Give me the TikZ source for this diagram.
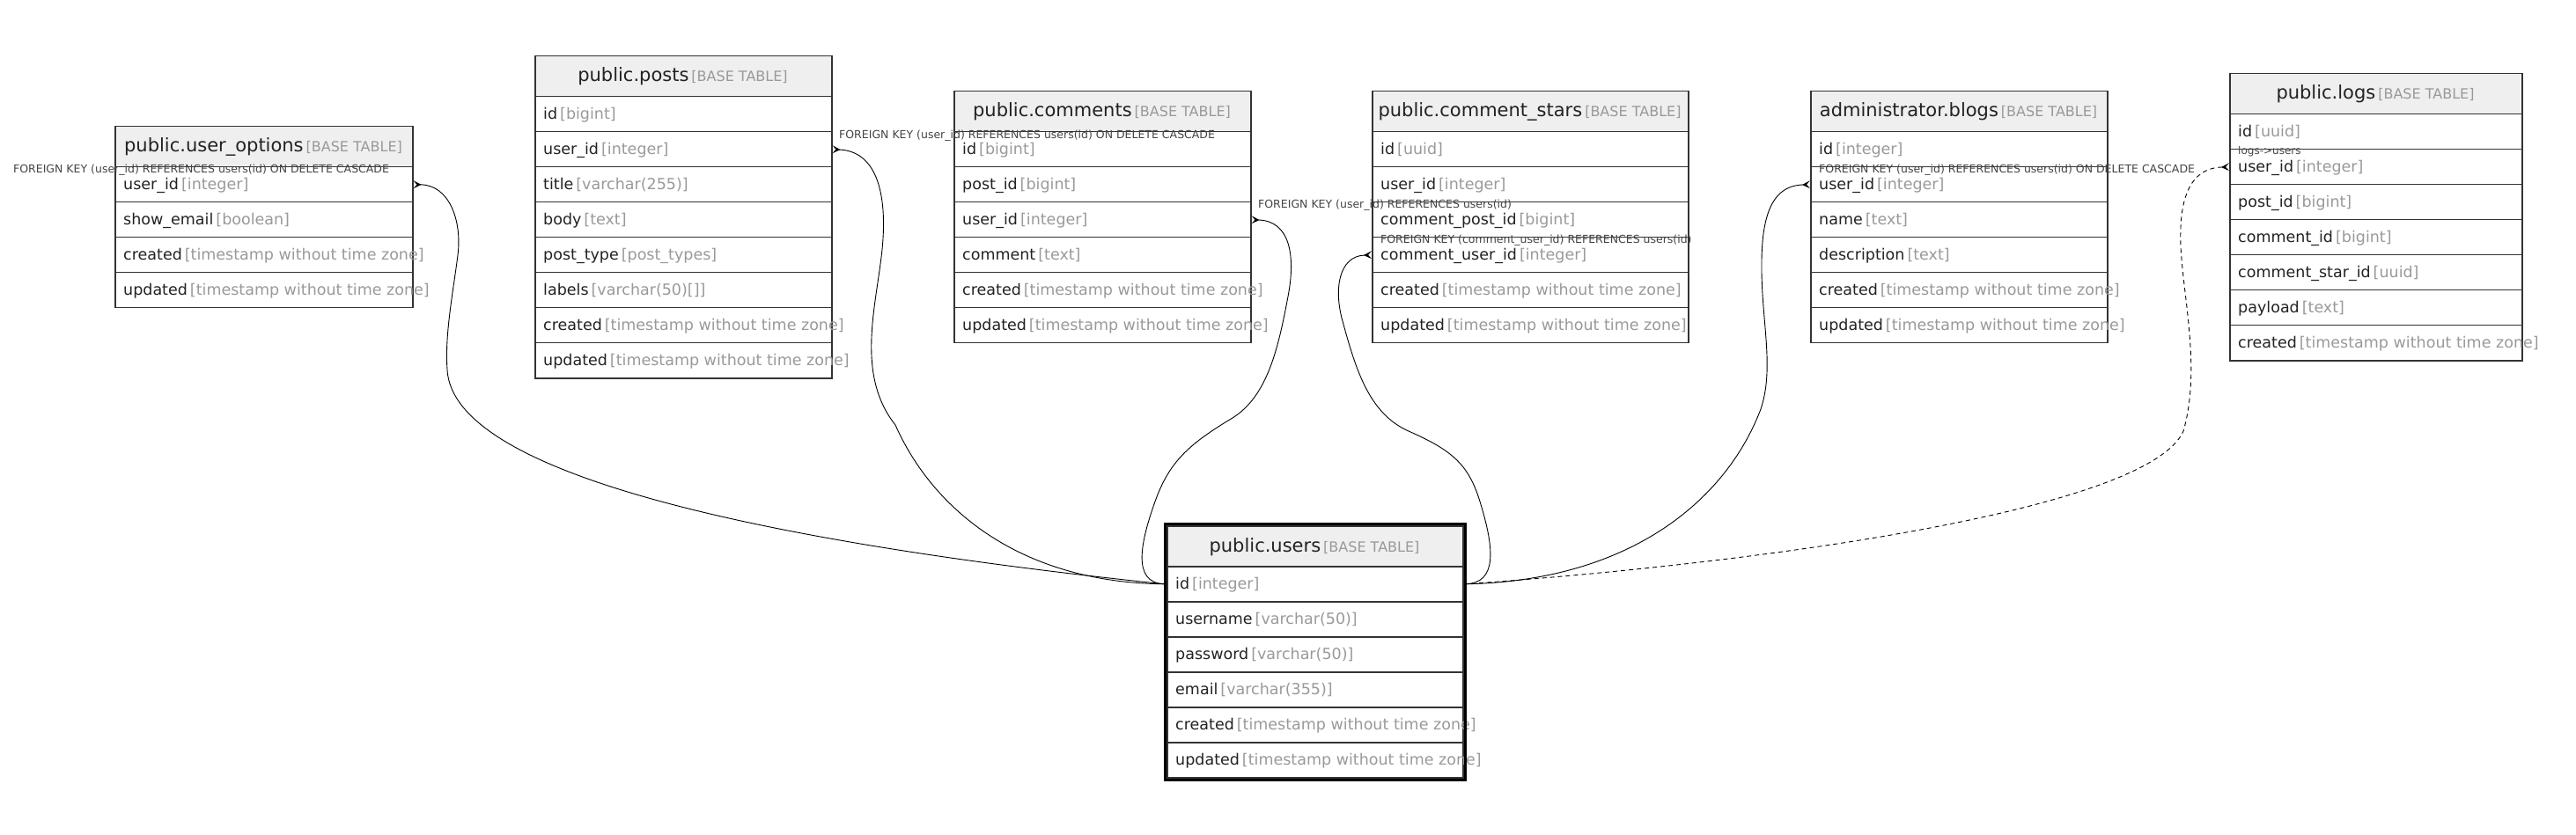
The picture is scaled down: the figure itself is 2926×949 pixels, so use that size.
\documentclass[tikz,border=0pt]{standalone}
\usepackage{fontspec}
\setmainfont{DejaVu Sans}
\usetikzlibrary{arrows.meta}
\definecolor{headfill}{HTML}{EFEFEF}
\definecolor{tblline}{HTML}{333333}
\definecolor{typegray}{HTML}{999999}
\definecolor{namegray}{HTML}{222222}
\definecolor{fkgray}{HTML}{444444}
\tikzset{
  headbox/.style={draw=tblline, fill=headfill, line width=1.5pt, minimum height=46pt, inner sep=0pt},
  rowbox/.style={draw=tblline, line width=1.5pt, minimum height=40pt, inner sep=0pt},
  titletext/.style={inner sep=0pt, anchor=base, text=namegray, font=\fontsize{21}{25}\selectfont},
  fieldtext/.style={inner sep=0pt, anchor=base west, text=namegray, font=\fontsize{17.5}{21}\selectfont},
  fklabel/.style={inner sep=0pt, anchor=base west, text=fkgray, font=\fontsize{12.5}{15}\selectfont},
  fk/.style={line width=0.9pt, {Stealth[reversed,length=9pt,width=9pt,inset=4pt]}-},
}
\newcommand{\tsz}{timestamp without time zone}
% #1 name, #2 x, #3 y, #4 width, #5 title, #6 fields
\newcommand{\erdtable}[6]{%
  \node[headbox, minimum width=#4pt, anchor=north west] (#1-h) at (#2,#3) {};
  \node[titletext] (#1-t) at ({#2+#4/2},{#3+30})
    {#5\hspace{3pt}{\color{typegray}\fontsize{16}{19}\selectfont[BASE TABLE]}};
  \foreach \fname/\ftype [count=\i] in {#6} {
    \node[rowbox, minimum width=#4pt, anchor=north west] (#1-\i) at (#2,{#3+46+40*(\i-1)}) {};
    \node[fieldtext] (#1-\i-txt) at ([xshift=10pt,yshift=-5.5pt]#1-\i.west)
      {\fname\hspace{3pt}\textcolor{typegray}{[\ftype]}};
  }%
}
\begin{document}
\begin{tikzpicture}[x=1pt,y=-1pt]
  \useasboundingbox (0,0) rectangle (2926,949);
  \erdtable{uopt}{130}{143}{338}{public.user\_options}
    {user\_id/integer, show\_email/boolean, created/\tsz, updated/\tsz}
  \erdtable{posts}{607}{63}{337}{public.posts}
    {id/bigint, user\_id/integer, title/varchar(255), body/text, post\_type/post\_types,
     labels/varchar(50)[], created/\tsz, updated/\tsz}
  \erdtable{comments}{1083}{103}{337}{public.comments}
    {id/bigint, post\_id/bigint, user\_id/integer, comment/text, created/\tsz, updated/\tsz}
  \erdtable{cstars}{1558}{103}{359}{public.comment\_stars}
    {id/uuid, user\_id/integer, comment\_post\_id/bigint, comment\_user\_id/integer,
     created/\tsz, updated/\tsz}
  \erdtable{blogs}{2056}{103}{337}{administrator.blogs}
    {id/integer, user\_id/integer, name/text, description/text, created/\tsz, updated/\tsz}
  \erdtable{logs}{2532}{83}{332}{public.logs}
    {id/uuid, user\_id/integer, post\_id/bigint, comment\_id/bigint,
     comment\_star\_id/uuid, payload/text, created/\tsz}
  \erdtable{users}{1325}{597}{336}{public.users}
    {id/integer, username/varchar(50), password/varchar(50), email/varchar(355),
     created/\tsz, updated/\tsz}
  \draw[line width=3pt] ([shift={(-1.5pt,1.5pt)}]users-h.north west)
    rectangle ([shift={(1.5pt,-1.5pt)}]users-6.south east);

  \node[fklabel] (fk-uopt) at (15,197) {FOREIGN KEY (user\_id) REFERENCES users(id) ON DELETE CASCADE};
  \node[fklabel] (fk-posts) at (953,157.5) {FOREIGN KEY (user\_id) REFERENCES users(id) ON DELETE CASCADE};
  \node[fklabel] (fk-comments) at (1429,237) {FOREIGN KEY (user\_id) REFERENCES users(id)};
  \node[fklabel] (fk-cstars) at (1568,277) {FOREIGN KEY (comment\_user\_id) REFERENCES users(id)};
  \node[fklabel] (fk-blogs) at (2066,197) {FOREIGN KEY (user\_id) REFERENCES users(id) ON DELETE CASCADE};
  \node[fklabel, font=\fontsize{12}{14}\selectfont] (fk-logs) at (2542,176) {logs->users};

  \draw[fk] (uopt-1.east) .. controls (510,210) and (525,250) .. (520,290)
    .. controls (515,330) and (505,380) .. (508,420)
    .. controls (515,560) and (1000,630) .. ([xshift=-3pt]users-1.west);
  \draw[fk] (posts-2.east) .. controls (1000,172) and (1010,230) .. (1000,300)
    .. controls (992,360) and (975,430) .. (1017,483)
    .. controls (1060,580) and (1160,662) .. ([xshift=-3pt]users-1.west);
  \draw[fk] (comments-3.east) .. controls (1465,251) and (1472,290) .. (1463,337)
    .. controls (1452,395) and (1440,450) .. (1400,475)
    .. controls (1350,505) and (1328,525) .. (1312,570)
    .. controls (1296,615) and (1285,662) .. ([xshift=-3pt]users-1.west);
  \draw[fk] (cstars-4.west) .. controls (1520,291) and (1515,330) .. (1525,365)
    .. controls (1540,420) and (1555,470) .. (1600,490)
    .. controls (1650,512) and (1668,528) .. (1681,570)
    .. controls (1698,625) and (1700,662) .. ([xshift=3pt]users-1.east);
  \draw[fk] (blogs-2.west) .. controls (2010,211) and (2000,250) .. (2001,310)
    .. controls (2002,370) and (2015,420) .. (2000,465)
    .. controls (1960,570) and (1850,660) .. ([xshift=3pt]users-1.east);
  \draw[fk, dash pattern=on 5pt off 4pt] (logs-2.west) .. controls (2485,191) and (2475,230) .. (2477,280)
    .. controls (2480,340) and (2500,420) .. (2480,490)
    .. controls (2440,580) and (2000,640) .. ([xshift=3pt]users-1.east);
\end{tikzpicture}
\end{document}
